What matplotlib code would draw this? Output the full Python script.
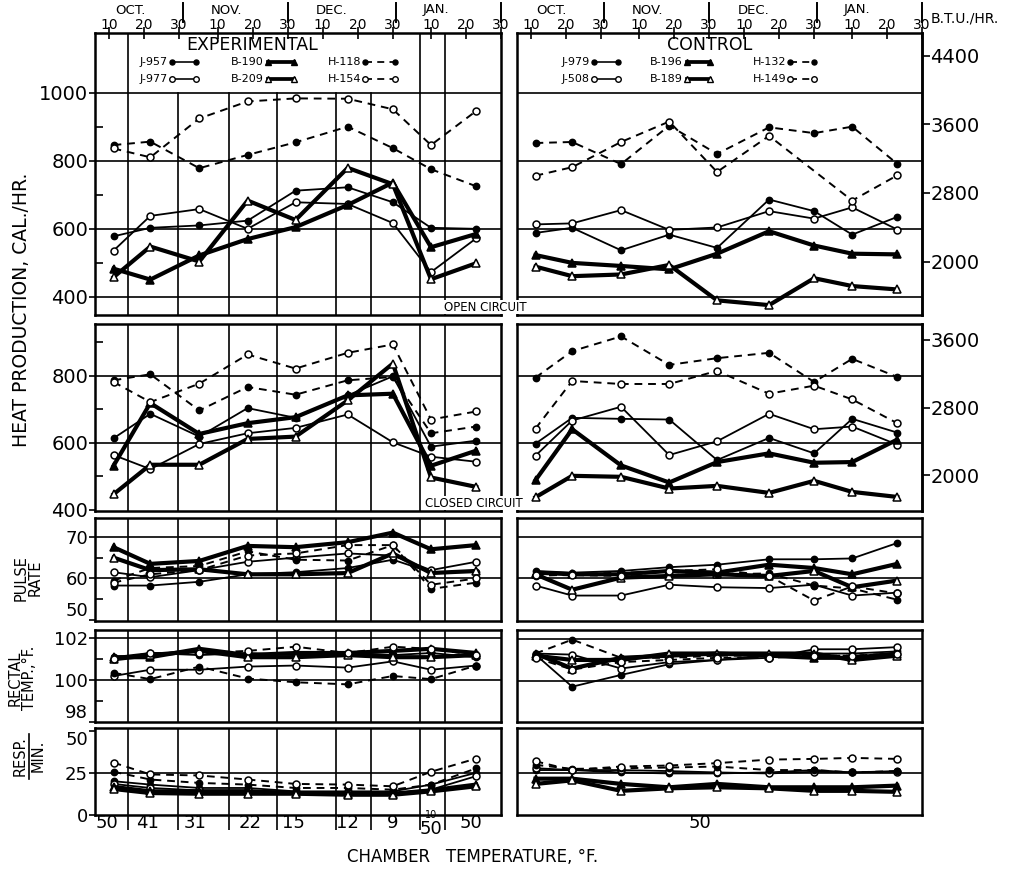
import numpy as np
import matplotlib
matplotlib.use("Agg")
import matplotlib.pyplot as plt
from matplotlib.lines import Line2D
import matplotlib.transforms as mtrans

plt.rcParams['font.family'] = ['DejaVu Sans']

W, H = 1015, 872
nan = np.nan

# ---------------- data ----------------
# x positions (days after Oct 1) of the nine test periods
period_days = [10.3, 20.8, 34.8, 48.6, 62.3, 77.2, 90.1, 101.0, 113.9]
# boundaries between experimental periods (vertical rules)
period_bounds = [14.5, 28.8, 43.4, 56.9, 73.8, 83.8, 97.8, 105.0]
# chamber temperature labels (experimental group)
chamber_temps = ["50", "41", "31", "22", "15", "12", "9", "10/50", "50"]
chamber_label_days = [8.4, 19.9, 33.7, 49.4, 61.7, 77.2, 90.1, 101.0, 112.4]
control_temp = "50"

# calendar axis
date_tick_days = [9, 19, 29, 40, 50, 60, 70, 80, 90, 101, 111, 121]
date_tick_labels = ["10", "20", "30"] * 4
month_names = ["OCT.", "NOV.", "DEC.", "JAN."]
month_label_days = [15.0, 42.5, 72.7, 102.5]
month_bound_days = [30, 60, 91, 121]

exp_animals = ["J-957", "J-977", "B-190", "B-209", "H-118", "H-154"]
ctrl_animals = ["J-979", "J-508", "B-196", "B-189", "H-132", "H-149"]
animal_kinds = ["Jf", "Jo", "Bf", "Bo", "Hf", "Ho"]

# Heat production, open circuit (cal/hr)
open_exp_J957 = [578, 603, 610, 624, 712, 722, 678, 603, 600]
open_exp_J977 = [536, 638, 658, 600, 678, 673, 617, 473, 572]
open_exp_B190 = [483, 451, 522, 570, 605, 670, 736, 546, 585]
open_exp_B209 = [458, 548, 504, 683, 626, 779, 731, 452, 499]
open_exp_H118 = [846, 856, 778, 817, 854, 900, 837, 775, 725]
open_exp_H154 = [836, 810, 924, 974, 983, 982, 951, 846, 946]

open_ctrl_J979 = [588, 603, 537, 583, 544, 686, 652, 583, 635]
open_ctrl_J508 = [613, 616, 655, 597, 604, 652, 630, 663, 598]
open_ctrl_B196 = [523, 500, 491, 481, 527, 593, 551, 527, 525]
open_ctrl_B189 = [489, 461, 466, 494, 390, 376, 455, 432, 422]
open_ctrl_H132 = [852, 855, 790, 903, 820, 898, 881, 900, 791]
open_ctrl_H149 = [756, 781, 855, 915, 767, 873, nan, 683, 757]

# Heat production, closed circuit (cal/hr)
closed_exp_J957 = [614, 687, 619, 704, 675, 742, 799, 589, 607]
closed_exp_J977 = [564, 522, 597, 629, 645, 685, 602, 559, 544]
closed_exp_B190 = [532, 719, 627, 659, 677, 742, 747, 532, 577]
closed_exp_B209 = [447, 535, 535, 612, 619, 727, 837, 497, 469]
closed_exp_H118 = [787, 805, 697, 767, 744, 787, 797, 629, 649]
closed_exp_H154 = [782, 722, 777, 864, 822, 869, 894, 670, 694]

closed_ctrl_J979 = [598, 675, 672, 670, 549, 615, 569, 672, 631]
closed_ctrl_J508 = [562, 667, 708, 564, 605, 687, 641, 649, 595]
closed_ctrl_B196 = [489, 641, 533, 482, 543, 569, 541, 543, 610]
closed_ctrl_B189 = [438, 502, 499, 464, 472, 451, 487, 454, 439]
closed_ctrl_H132 = [795, 874, 918, 833, 853, 869, 782, 851, 797]
closed_ctrl_H149 = [643, 785, 776, 776, 815, 747, 771, 730, 659]

# Pulse rate
pulse_exp_J957 = [58.3, 58.3, 59.2, 61.0, 61.5, 62.5, 64.5, 61.5, 61.5]
pulse_exp_J977 = [61.5, 60.3, 62.0, 64.0, 65.0, 66.0, 65.5, 62.0, 64.0]
pulse_exp_B190 = [67.5, 63.5, 64.2, 67.8, 67.5, 68.7, 71.0, 67.0, 68.0]
pulse_exp_B209 = [65.0, 62.0, 62.2, 61.0, 61.0, 61.3, 66.0, 61.3, 61.8]
pulse_exp_H118 = [59.5, 62.5, 63.0, 66.5, 64.5, 64.3, 68.0, 57.5, 59.0]
pulse_exp_H154 = [59.0, 61.0, 62.0, 65.5, 66.0, 68.0, 68.0, 58.5, 60.0]

pulse_ctrl_J979 = [61.8, 61.4, 61.8, 62.7, 63.3, 64.6, 64.6, 64.8, 68.5]
pulse_ctrl_J508 = [58.3, 55.9, 55.9, 58.5, 57.9, 57.7, 58.5, 55.9, 56.6]
pulse_ctrl_B196 = [61.4, 61.0, 61.0, 61.8, 61.4, 63.3, 62.5, 61.0, 63.5]
pulse_ctrl_B189 = [61.0, 57.3, 60.2, 60.6, 61.0, 60.6, 61.8, 57.9, 59.5]
pulse_ctrl_H132 = [60.6, 61.0, 61.4, 61.6, 61.0, 61.2, 58.3, 57.6, 54.9]
pulse_ctrl_H149 = [60.8, 60.8, 60.6, 61.8, 62.2, 60.6, 54.7, 58.1, 56.4]

# Rectal temperature (deg F)
rectal_exp_J957 = [101.1, 101.3, 101.2, 101.3, 101.2, 101.3, 101.2, 101.3, 101.1]
rectal_exp_J977 = [100.2, 100.5, 100.5, 100.65, 100.7, 100.6, 100.9, 100.5, 100.7]
rectal_exp_B190 = [101.1, 101.1, 101.5, 101.2, 101.3, 101.3, 101.4, 101.5, 101.3]
rectal_exp_B209 = [101.0, 101.2, 101.4, 101.1, 101.1, 101.2, 101.1, 101.1, 101.2]
rectal_exp_H118 = [100.35, 100.05, 100.65, 100.08, 99.9, 99.8, 100.2, 100.05, 100.7]
rectal_exp_H154 = [101.0, 101.3, 101.3, 101.4, 101.6, 101.3, 101.6, 101.5, 101.2]

rectal_ctrl_J979 = [101.25, 99.75, 100.3, 100.8, 101.0, 101.2, 101.3, 101.3, 101.4]
rectal_ctrl_J508 = [101.3, 101.25, 100.6, 100.9, 101.0, 101.1, 101.5, 101.5, 101.6]
rectal_ctrl_B196 = [101.3, 100.6, 101.1, 101.2, 101.3, 101.2, 101.1, 101.1, 101.3]
rectal_ctrl_B189 = [101.2, 101.0, 101.0, 101.3, 101.3, 101.3, 101.3, 101.0, 101.2]
rectal_ctrl_H132 = [101.3, 101.95, 101.1, 101.1, 101.2, 101.2, 101.2, 101.2, 101.3]
rectal_ctrl_H149 = [101.1, 100.55, 100.9, 101.0, 101.1, 101.1, 101.2, 101.2, 101.3]

# Respirations per minute
resp_exp_J957 = [20.0, 18.0, 16.0, 16.0, 14.0, 14.0, 14.0, 18.0, 25.0]
resp_exp_J977 = [18.4, 16.0, 14.6, 14.6, 13.4, 13.4, 13.0, 15.0, 23.0]
resp_exp_B190 = [16.6, 14.0, 14.0, 14.0, 13.0, 12.6, 12.6, 14.6, 18.0]
resp_exp_B209 = [15.4, 13.0, 12.6, 12.6, 12.6, 12.0, 12.0, 14.0, 17.0]
resp_exp_H118 = [25.6, 21.0, 19.0, 18.0, 16.0, 16.0, 15.0, 18.0, 27.6]
resp_exp_H154 = [31.0, 24.0, 23.4, 21.0, 18.4, 18.0, 17.0, 25.6, 33.4]

resp_ctrl_J979 = [26.6, 26.6, 25.2, 24.6, 24.6, 25.2, 26.6, 25.2, 26.0]
resp_ctrl_J508 = [27.7, 26.6, 26.6, 26.0, 25.2, 24.6, 25.6, 25.2, 25.6]
resp_ctrl_B196 = [21.5, 21.5, 18.4, 16.4, 18.4, 16.4, 16.4, 16.4, 17.4]
resp_ctrl_B189 = [18.4, 20.5, 14.3, 15.8, 16.4, 15.8, 14.3, 14.3, 13.7]
resp_ctrl_H132 = [29.7, 27.3, 27.7, 28.1, 28.7, 26.6, 26.6, 25.2, 26.0]
resp_ctrl_H149 = [31.8, 26.6, 28.7, 29.3, 30.7, 32.8, 33.2, 33.8, 33.2]

# ---------------- styling ----------------
STY = {
    'Jf': dict(ls='-', lw=1.3, marker='o', ms=4.5, mfc='black'),
    'Jo': dict(ls='-', lw=1.3, marker='o', ms=5.0, mfc='white'),
    'Bf': dict(ls='-', lw=3.0, marker='^', ms=6.0, mfc='black'),
    'Bo': dict(ls='-', lw=3.0, marker='^', ms=6.0, mfc='white'),
    'Hf': dict(ls=(0, (4, 3)), lw=1.4, marker='o', ms=4.5, mfc='black'),
    'Ho': dict(ls=(0, (4, 3)), lw=1.4, marker='o', ms=5.0, mfc='white'),
}

fig = plt.figure(figsize=(W / 100, H / 100), dpi=100)
fig.patch.set_facecolor('white')


def add_ax(x0, y0, x1, y1):
    return fig.add_axes([x0 / W, 1 - y1 / H, (x1 - x0) / W, (y1 - y0) / H])


def fx(px):
    return px / W


def fy(py):
    return 1 - py / H


XLIM = (5, 121)
left_x = (95, 501)
right_x = (517, 922)
rows = [(33, 315), (324, 511), (518, 621), (630, 722), (728, 815)]
ylims = [(347, 1175), (397, 955), (49.8, 74.5), (98.1, 102.4), (0, 51.5)]
hgrid = [[400, 600, 800, 1000], [600, 800], [60, 70], [100, 102], [25]]
major_ticks = [[400, 600, 800, 1000], [400, 600, 800], [50, 60, 70], [98, 100, 102], [0, 25, 50]]
minor_ticks = [[500, 700, 900], [500, 700, 900], [55, 65], [99, 101], []]
# vertical alignment tweaks for crowded tick labels (bottom / top label)
label_va = [{}, {}, {50: 'bottom'}, {98: 'bottom'}, {50: 'top'}]

exp_sets = [
    [open_exp_J957, open_exp_J977, open_exp_B190, open_exp_B209, open_exp_H118, open_exp_H154],
    [closed_exp_J957, closed_exp_J977, closed_exp_B190, closed_exp_B209, closed_exp_H118, closed_exp_H154],
    [pulse_exp_J957, pulse_exp_J977, pulse_exp_B190, pulse_exp_B209, pulse_exp_H118, pulse_exp_H154],
    [rectal_exp_J957, rectal_exp_J977, rectal_exp_B190, rectal_exp_B209, rectal_exp_H118, rectal_exp_H154],
    [resp_exp_J957, resp_exp_J977, resp_exp_B190, resp_exp_B209, resp_exp_H118, resp_exp_H154],
]
ctrl_sets = [
    [open_ctrl_J979, open_ctrl_J508, open_ctrl_B196, open_ctrl_B189, open_ctrl_H132, open_ctrl_H149],
    [closed_ctrl_J979, closed_ctrl_J508, closed_ctrl_B196, closed_ctrl_B189, closed_ctrl_H132, closed_ctrl_H149],
    [pulse_ctrl_J979, pulse_ctrl_J508, pulse_ctrl_B196, pulse_ctrl_B189, pulse_ctrl_H132, pulse_ctrl_H149],
    [rectal_ctrl_J979, rectal_ctrl_J508, rectal_ctrl_B196, rectal_ctrl_B189, rectal_ctrl_H132, rectal_ctrl_H149],
    [resp_ctrl_J979, resp_ctrl_J508, resp_ctrl_B196, resp_ctrl_B189, resp_ctrl_H132, resp_ctrl_H149],
]


def plot_series(ax, vals, kind):
    x = np.array(period_days, float)
    y = np.array(vals, float)
    m = ~np.isnan(y)
    ax.plot(x[m], y[m], color='black', mec='black', mew=1.1, zorder=3,
            clip_on=False, **STY[kind])


axes_left, axes_right = [], []
for i, (y0, y1) in enumerate(rows):
    for side in ('L', 'R'):
        xs = left_x if side == 'L' else right_x
        ax = add_ax(xs[0], y0, xs[1], y1)
        ax.set_xlim(*XLIM)
        ax.set_ylim(*ylims[i])
        for s in ax.spines.values():
            s.set_linewidth(1.8)
        for g in hgrid[i]:
            ax.axhline(g, color='black', lw=1.2, zorder=1)
        if side == 'L':
            for b in period_bounds:
                ymax = 1.0
                if i == 0 and 15 < b < 97:
                    ymax = (1000 - ylims[0][0]) / (ylims[0][1] - ylims[0][0])
                ax.axvline(b, ymax=ymax, color='black', lw=1.2, zorder=1)
            ax.set_yticks(major_ticks[i])
            ax.set_yticks(minor_ticks[i], minor=True)
            ax.set_yticklabels([str(t) for t in major_ticks[i]])
            ax.tick_params(axis='y', which='major', direction='out', length=4,
                           width=1.2, labelsize=14 if i < 2 else 13, pad=1)
            ax.tick_params(axis='y', which='minor', direction='in', length=6, width=1.2)
            for t, lab in zip(major_ticks[i], ax.get_yticklabels()):
                if t in label_va[i]:
                    lab.set_verticalalignment(label_va[i][t])
            sets = exp_sets[i]
            axes_left.append(ax)
        else:
            ax.set_yticks([])
            sets = ctrl_sets[i]
            axes_right.append(ax)
        ax.set_xticks([])
        for vals, kind in zip(sets, animal_kinds):
            plot_series(ax, vals, kind)

# ---- top calendar axes ----
for ax in (axes_left[0], axes_right[0]):
    ax.xaxis.set_ticks_position('top')
    ax.set_xticks(date_tick_days)
    ax.set_xticklabels(date_tick_labels)
    ax.tick_params(axis='x', which='major', direction='inout', length=9, width=1.2,
                   labelsize=10, pad=-4, top=True, bottom=False,
                   labeltop=True, labelbottom=False)
    tr = mtrans.blended_transform_factory(ax.transData, fig.transFigure)
    for d in month_bound_days:
        ax.add_artist(Line2D([d, d], [fy(22), fy(3)], transform=tr, color='black',
                             lw=1.4, clip_on=False))
    for d, name in zip(month_label_days, month_names):
        ax.text(d, fy(10), name, transform=tr, ha='center', va='center', fontsize=9.5)

# ---- BTU/hr secondary axes ----
for i, ticks in ((0, [2000, 2800, 3600, 4400]), (1, [2000, 2800, 3600])):
    sec = axes_right[i].secondary_yaxis('right', functions=(lambda k: k * 3.968,
                                                             lambda b: b / 3.968))
    sec.set_yticks(ticks)
    sec.set_yticklabels([str(t) for t in ticks])
    sec.tick_params(axis='y', direction='out', length=6, width=1.2, labelsize=14, pad=0)
    sec.spines['right'].set_linewidth(1.8)
fig.text(fx(931), fy(18), "B.T.U./HR.", ha='left', va='center', fontsize=10)

# ---- bottom chamber temperature labels ----
axL = axes_left[4]
axL.set_xticks(period_bounds)
axL.set_xticklabels([])
axL.tick_params(axis='x', which='major', direction='out', length=11, width=1.2,
                bottom=True, top=False)
trL = mtrans.blended_transform_factory(axL.transData, fig.transFigure)
for d, lab in zip(chamber_label_days, chamber_temps):
    if "/" in lab:
        top, bot = lab.split("/")
        axL.text(d, fy(815), top, transform=trL, ha='center', va='center', fontsize=7)
        axL.text(d, fy(829), bot, transform=trL, ha='center', va='center', fontsize=13)
    else:
        axL.text(d, fy(823), lab, transform=trL, ha='center', va='center', fontsize=13)
axR = axes_right[4]
trR = mtrans.blended_transform_factory(axR.transData, fig.transFigure)
axR.text(57.4, fy(823), control_temp, transform=trR, ha='center', va='center', fontsize=13)

fig.text(fx(473), fy(857), "CHAMBER   TEMPERATURE, °F.", ha='center', va='center', fontsize=12)

# ---- titles and legends ----
fig.text(fx(252), fy(45), "EXPERIMENTAL", ha='center', va='center', fontsize=12.5)
fig.text(fx(710), fy(45), "CONTROL", ha='center', va='center', fontsize=12.5)

legend_cols_L = [(135, 170, 196), (232, 266, 294), (330, 363, 395)]
legend_cols_R = [(558, 592, 618), (652, 685, 710), (755, 788, 814)]
legend_rows = [62, 79]
for names, cols in ((exp_animals, legend_cols_L), (ctrl_animals, legend_cols_R)):
    for k, (name, kind) in enumerate(zip(names, animal_kinds)):
        c = cols[k // 2]
        r = legend_rows[k % 2]
        fig.text(fx(c[1] - 2), fy(r), name, ha='right', va='center', fontsize=8)
        sty = dict(STY[kind])
        sty['ms'] = sty['ms'] * 0.8
        sty['lw'] = sty['lw'] * 0.9
        fig.add_artist(Line2D([fx(c[1] + 2), fx(c[2])], [fy(r), fy(r)],
                              transform=fig.transFigure,
                              color='black', mec='black', mew=1.0, **sty))

# ---- circuit labels ----
fig.text(fx(485), fy(307), "OPEN CIRCUIT", ha='center', va='center', fontsize=8.5,
         bbox=dict(facecolor='white', edgecolor='none', pad=0.5))
fig.text(fx(474), fy(503), "CLOSED CIRCUIT", ha='center', va='center', fontsize=8.5,
         bbox=dict(facecolor='white', edgecolor='none', pad=0.5))

# ---- y-axis titles ----
fig.text(fx(22), fy(310), "HEAT PRODUCTION, CAL./HR.", rotation=90, ha='center',
         va='center', fontsize=13.5)
fig.text(fx(28), fy(578), "PULSE\nRATE", rotation=90, ha='center', va='center',
         fontsize=10.5, linespacing=0.95, multialignment='center')
fig.text(fx(22), fy(678), "RECTAL\nTEMP.,°F.", rotation=90, ha='center', va='center',
         fontsize=10.5, linespacing=0.95, multialignment='center')
fig.text(fx(20), fy(756), "RESP.", rotation=90, ha='center', va='center', fontsize=10.5)
fig.text(fx(38), fy(756), "MIN.", rotation=90, ha='center', va='center', fontsize=10.5)
fig.add_artist(Line2D([fx(29), fx(29)], [fy(734), fy(779)], transform=fig.transFigure,
                      color='black', lw=1.2))

fig.savefig("out.png", dpi=100, facecolor='white')
